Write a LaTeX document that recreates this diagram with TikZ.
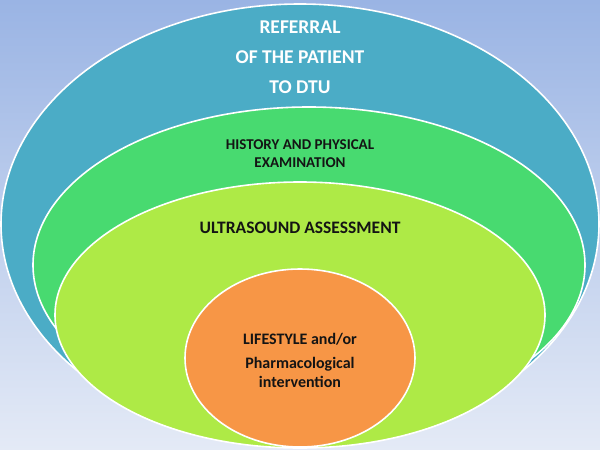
\documentclass[tikz,border=0pt]{standalone}
\usepackage{fontspec}
\setmainfont{Carlito}
\usetikzlibrary{shapes.geometric}
\definecolor{bgtop}{RGB}{154,180,228}
\definecolor{bgbot}{RGB}{228,234,246}
\definecolor{tealc}{RGB}{75,172,198}
\definecolor{greenc}{RGB}{72,218,112}
\definecolor{limec}{RGB}{174,234,70}
\definecolor{orangec}{RGB}{247,150,70}
\definecolor{txt}{RGB}{20,20,20}
\tikzset{
  ring/.style={ellipse, draw=white, line width=1.6pt, inner sep=0pt},
  whitelab/.style={text=white, font=\bfseries\fontsize{19.5}{30}\selectfont, align=center},
  darklab/.style={text=txt, font=\bfseries\fontsize{15}{18}\selectfont, align=center}
}
\begin{document}
\begin{tikzpicture}[x=1pt,y=-1pt]
\shade[top color=bgtop, bottom color=bgbot] (0,0) rectangle (600,450);
\useasboundingbox (0,0) rectangle (600,450);
\node[ring, fill=tealc, minimum width=598pt, minimum height=440pt] (outer) at (300,224) {};
\node[ring, fill=greenc, minimum width=552pt, minimum height=316pt] (history) at (309,265) {};
\node[ring, fill=limec, minimum width=490pt, minimum height=266pt] (ultra) at (300,315) {};
\node[ring, fill=orangec, minimum width=230pt, minimum height=178pt] (core) at (300,358) {};
\node[whitelab] (t1) at (300,57) {REFERRAL\\OF THE PATIENT\\TO DTU};
\node[darklab] (t2) at (300,154) {HISTORY AND PHYSICAL\\EXAMINATION};
\node[darklab, font=\bfseries\fontsize{17.5}{20}\selectfont] (t3) at (300,228) {ULTRASOUND ASSESSMENT};
\node[darklab, font=\bfseries\fontsize{16}{19}\selectfont] (t4) at (300,360) {LIFESTYLE and/or\\[5pt]Pharmacological\\intervention};
\end{tikzpicture}
\end{document}
